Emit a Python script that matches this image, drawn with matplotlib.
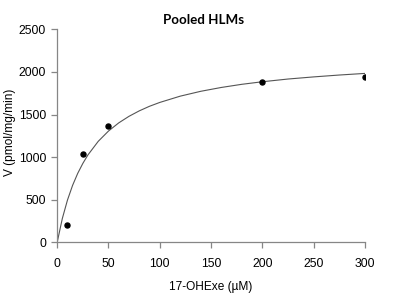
import matplotlib
matplotlib.use("Agg")
import matplotlib.pyplot as plt

# Measured data points
substrate = [10, 25, 50, 200, 300]
velocity = [200, 1040, 1365, 1885, 1940]

# Fitted curve values
curve_x = [0, 5, 10, 15, 20, 25, 30, 40, 50, 60, 70, 80, 90, 100, 120, 140,
           160, 180, 200, 225, 250, 275, 300]
curve_y = [0, 279, 495, 668, 809, 926, 1026, 1185, 1306, 1402, 1479, 1543,
           1597, 1642, 1716, 1773, 1818, 1855, 1885, 1917, 1942, 1964, 1983]

x_ticks = [0, 50, 100, 150, 200, 250, 300]
y_ticks = [0, 500, 1000, 1500, 2000, 2500]

plt.rcParams['font.family'] = ['Liberation Sans', 'DejaVu Sans']

fig = plt.figure(figsize=(4.0, 2.94), dpi=100)
ax = fig.add_axes([0.143, 0.176, 0.769, 0.724])

ax.plot(curve_x, curve_y, color='#555555', lw=0.8)
ax.plot(substrate, velocity, 'o', color='black', markersize=3.6, zorder=3)

ax.set_xlim(0, 300)
ax.set_ylim(0, 2500)
ax.set_xticks(x_ticks)
ax.set_yticks(y_ticks)
for s in ['top', 'right']:
    ax.spines[s].set_visible(False)
for s in ['left', 'bottom']:
    ax.spines[s].set_color('#868686')
    ax.spines[s].set_linewidth(0.9)
ax.tick_params(axis='both', colors='#868686', length=4, width=0.9,
               labelsize=8.8, labelcolor='black', direction='out')
ax.tick_params(axis='x', pad=7)
ax.tick_params(axis='y', pad=4)

ax.set_xlabel('17-OHExe (µM)', fontsize=8.6, labelpad=8)
ax.set_ylabel('V (pmol/mg/min)', fontsize=8.6, va='center')
ax.yaxis.set_label_coords(-0.155, 0.515)
fig.text(0.508, 0.932, 'Pooled HLMs', ha='center', va='center',
         fontsize=9.6, fontweight='bold', family=['Lato', 'DejaVu Sans'])

fig.savefig('out.png', dpi=100)
